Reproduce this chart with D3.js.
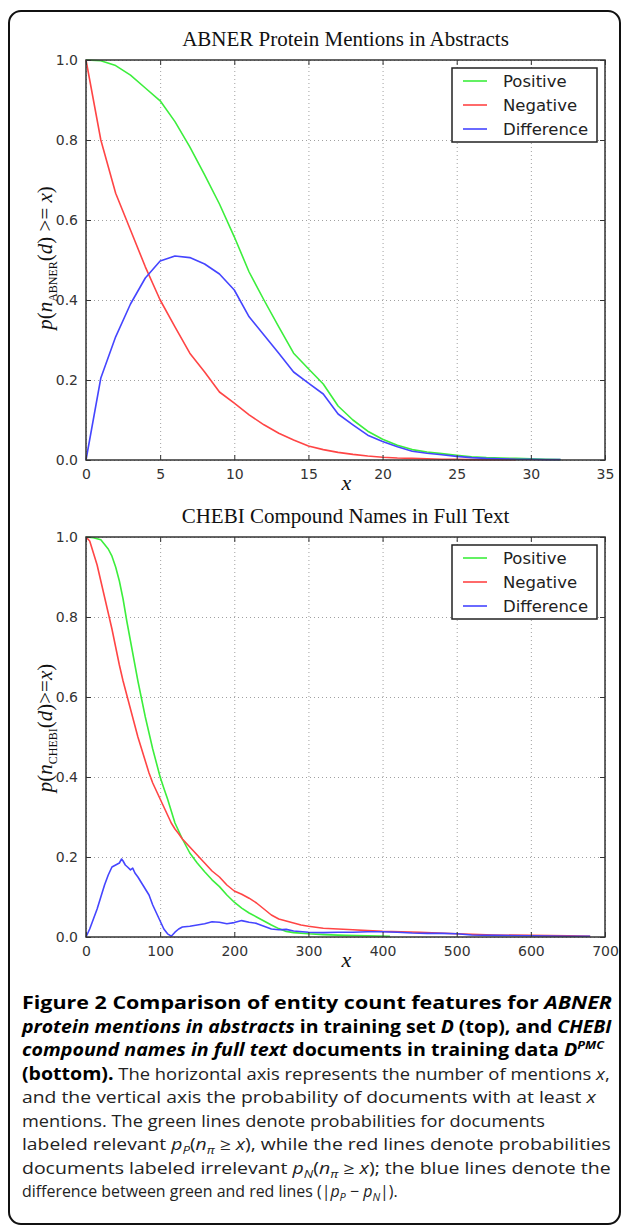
<!DOCTYPE html>
<html><head><meta charset="utf-8">
<script src="https://cdn.jsdelivr.net/npm/d3@7/dist/d3.min.js"></script>
<style>body{margin:0;background:#fff}svg{display:block}</style>
</head><body>
<svg id="c" width="629" height="1228"></svg>
<script>
// ---------- DATA ----------
const seriesNames = ["Positive", "Negative", "Difference"];

// Top chart: ABNER protein mentions in abstracts
const abnerTitle = "ABNER Protein Mentions in Abstracts";
const abnerXTicks = [0, 5, 10, 15, 20, 25, 30, 35];
const abnerX = [0,1,2,3,4,5,6,7,8,9,10,11,12,13,14,15,16,17,18,19,20,21,22,23,24,25,26,27,28,29,30,31,32];
const abnerPositive = [1.0,0.998,0.986,0.962,0.93,0.898,0.846,0.783,0.713,0.64,0.558,0.47,0.40,0.333,0.267,0.228,0.19,0.135,0.10,0.072,0.052,0.037,0.026,0.02,0.016,0.012,0.008,0.006,0.005,0.004,0.003,0.002,0.001];
const abnerNegative = [1.0,0.80,0.667,0.575,0.483,0.40,0.333,0.267,0.22,0.17,0.142,0.113,0.088,0.067,0.05,0.035,0.026,0.019,0.014,0.010,0.007,0.005,0.004,0.003,0.002,0.002,0.001,0.001,0.001,0.001];
const abnerDifference = [0,0.205,0.308,0.39,0.455,0.4975,0.51,0.506,0.49,0.465,0.425,0.358,0.3125,0.267,0.22,0.192,0.165,0.115,0.088,0.062,0.046,0.033,0.022,0.017,0.013,0.009,0.006,0.004,0.003,0.002,0.002,0.001,0.001];

// Bottom chart: CHEBI compound names in full text
const chebiTitle = "CHEBI Compound Names in Full Text";
const chebiXTicks = [0, 100, 200, 300, 400, 500, 600, 700];
const chebiPosX = [0,10,20,30,35,40,45,50,55,60,65,70,75,80,85,90,95,100,105,110,115,120,125,130,140,150,160,170,180,190,200,210,220,230,240,250,260,270,280,300,320,350,380,410];
const chebiPositive = [1.0,0.998,0.993,0.97,0.952,0.925,0.89,0.845,0.79,0.74,0.69,0.64,0.595,0.55,0.51,0.47,0.435,0.40,0.372,0.345,0.315,0.285,0.265,0.245,0.21,0.185,0.163,0.143,0.126,0.105,0.087,0.072,0.06,0.05,0.04,0.03,0.021,0.014,0.011,0.008,0.006,0.004,0.003,0.002];
const chebiNegX = [0,5,10,15,20,25,30,35,40,45,50,55,60,65,70,75,80,85,90,95,100,105,110,115,120,125,130,140,150,160,170,180,190,200,210,220,230,240,250,260,270,280,290,300,320,340,360,380,400,450,500,550,600,650,680];
const chebiNegative = [1.0,0.99,0.96,0.93,0.89,0.85,0.81,0.77,0.725,0.68,0.64,0.605,0.57,0.535,0.5,0.47,0.44,0.41,0.385,0.365,0.345,0.325,0.305,0.285,0.27,0.258,0.245,0.225,0.205,0.185,0.165,0.15,0.13,0.115,0.107,0.097,0.085,0.07,0.055,0.045,0.04,0.035,0.03,0.027,0.022,0.02,0.018,0.016,0.014,0.012,0.008,0.005,0.004,0.003,0.002];
const chebiDiffX = [0,5,10,15,20,25,30,35,40,45,48,50,53,56,60,63,66,70,75,80,85,90,95,100,105,110,115,120,125,130,140,150,160,170,180,190,200,210,220,230,240,250,260,270,280,300,320,340,360,380,400,420,440,460,480,500,520,550,600,650,680];
const chebiDifference = [0,0.02,0.045,0.07,0.1,0.13,0.155,0.175,0.18,0.185,0.195,0.19,0.18,0.175,0.168,0.172,0.16,0.15,0.135,0.12,0.105,0.08,0.06,0.04,0.02,0.008,0.002,0.012,0.02,0.025,0.027,0.03,0.033,0.038,0.037,0.033,0.036,0.041,0.037,0.034,0.027,0.02,0.018,0.019,0.015,0.012,0.011,0.012,0.012,0.013,0.013,0.012,0.01,0.009,0.009,0.008,0.005,0.004,0.003,0.002,0.002];

const yTicks = [0, 0.2, 0.4, 0.6, 0.8, 1.0];
const colors = {Positive: "#3cee3c", Negative: "#ff4545", Difference: "#4545ff"};

// Caption lines: [text, style] where style tokens: b (bold), i (italic), sub, sup
const captionLines = [
  [["Figure 2 Comparison of entity count features for ","b"],["ABNER","b i"]],
  [["protein mentions in abstracts","b i"],[" in training set ","b"],["D","b i"],[" (top), and ","b"],["CHEBI","b i"]],
  [["compound names in full text","b i"],[" documents in training data ","b"],["D","b i"],["PMC","b i sup"]],
  [["(bottom).","b"],[" The horizontal axis represents the number of mentions ",""],["x","i"],[",",""]],
  [["and the vertical axis the probability of documents with at least ",""],["x","i"]],
  [["mentions. The green lines denote probabilities for documents",""]],
  [["labeled relevant ",""],["p","i"],["P","i sub"],["(",""],["n","i"],["π","i sub"],[" ≥ ",""],["x","i"],["), while the red lines denote probabilities",""]],
  [["documents labeled irrelevant ",""],["p","i"],["N","i sub"],["(",""],["n","i"],["π","i sub"],[" ≥ ",""],["x","i"],["); the blue lines denote the",""]],
  [["difference between green and red lines (|",""],["p","i"],["P","i sub"],[" − ",""],["p","i"],["N","i sub"],["|).",""]]
];
const captionLineEnds = [612, 612, 604, 610, 596, 545, 611, 611, 398];

// ---------- DRAW ----------
const svg = d3.select("#c");
svg.append("rect").attr("x", 9).attr("y", 11).attr("width", 611).attr("height", 1213)
  .attr("rx", 12).attr("fill", "#fff").attr("stroke", "#111").attr("stroke-width", 2);

function drawChart(cfg) {
  const left = 86, right = 605, top = cfg.top, bottom = cfg.top + 400;
  const x = d3.scaleLinear().domain([0, cfg.xTicks[cfg.xTicks.length - 1]]).range([left, right]);
  const y = d3.scaleLinear().domain([0, 1]).range([bottom, top]);
  const g = svg.append("g");

  // grid
  const grid = g.append("g").attr("class", "grid");
  grid.append("g").attr("transform", `translate(0,${bottom})`)
    .call(d3.axisBottom(x).tickValues(cfg.xTicks).tickSize(-(bottom - top)).tickFormat(""));
  grid.append("g").attr("transform", `translate(${left},0)`)
    .call(d3.axisLeft(y).tickValues(yTicks).tickSize(-(right - left)).tickFormat(""));
  grid.selectAll(".domain").remove();
  grid.selectAll("line").attr("stroke", "#a0a0a0").attr("stroke-width", 1).attr("stroke-dasharray", "1,3");

  // title
  g.append("text").attr("x", (left + right) / 2).attr("y", top - 14)
    .attr("text-anchor", "middle").attr("font-family", "Liberation Serif, serif")
    .attr("font-size", 21).attr("fill", "#111").text(cfg.title);

  // lines
  const line = d3.line().x(d => x(d[0])).y(d => y(d[1]));
  cfg.series.forEach(s => {
    g.append("path").datum(s.xs.map((v, i) => [v, s.ys[i]]))
      .attr("d", line).attr("fill", "none").attr("stroke", colors[s.name])
      .attr("stroke-width", 1.6).attr("stroke-linejoin", "round");
  });

  // frame
  g.append("rect").attr("x", left).attr("y", top).attr("width", right - left).attr("height", bottom - top)
    .attr("fill", "none").attr("stroke", "#333").attr("stroke-width", 1.5);

  // ticks and labels
  const fmt = d3.format(".1f");
  const ax = g.append("g").attr("font-family", "DejaVu Sans, sans-serif");
  ax.append("g").attr("transform", `translate(0,${bottom})`)
    .call(d3.axisBottom(x).tickValues(cfg.xTicks).tickSize(-5).tickPadding(9));
  ax.append("g").attr("transform", `translate(0,${top})`)
    .call(d3.axisTop(x).tickValues(cfg.xTicks).tickSize(-5).tickFormat(""));
  ax.append("g").attr("transform", `translate(${left},0)`)
    .call(d3.axisLeft(y).tickValues(yTicks).tickSize(-5).tickPadding(8).tickFormat(fmt));
  ax.append("g").attr("transform", `translate(${right},0)`)
    .call(d3.axisRight(y).tickValues(yTicks).tickSize(-5).tickFormat(""));
  ax.selectAll(".domain").remove();
  ax.selectAll(".tick line").attr("stroke", "#333").attr("stroke-width", 1);
  ax.selectAll(".tick text").attr("font-size", 14).attr("fill", "#333").attr("font-family", "DejaVu Sans, sans-serif");

  // x label
  g.append("text").attr("x", (left + right) / 2 + 1).attr("y", bottom + 30)
    .attr("text-anchor", "middle").attr("font-family", "Liberation Serif, serif")
    .attr("font-style", "italic").attr("font-size", 22).attr("fill", "#111").text("x");

  // y label (rotated)
  const yl = g.append("text").attr("transform", `translate(52,${cfg.yLabelCenter}) rotate(-90)`)
    .attr("text-anchor", "middle").attr("font-family", "Liberation Serif, serif")
    .attr("font-size", 21).attr("fill", "#111");
  yl.append("tspan").attr("font-style", "italic").text("p");
  yl.append("tspan").text("(");
  yl.append("tspan").attr("font-style", "italic").text("n");
  yl.append("tspan").attr("font-size", 12).attr("dy", 5).text(cfg.sub);
  yl.append("tspan").attr("dy", -5).text("(");
  yl.append("tspan").attr("font-style", "italic").text("d");
  yl.append("tspan").text(cfg.ge);
  yl.append("tspan").attr("font-style", "italic").text("x");
  yl.append("tspan").text(")");

  // legend
  const lg = g.append("g");
  const lx0 = 452, lw = 145, ly0 = top + 8, lh = 74;
  lg.append("rect").attr("x", lx0).attr("y", ly0).attr("width", lw).attr("height", lh)
    .attr("fill", "#fff").attr("stroke", "#222").attr("stroke-width", 1.5);
  seriesNames.forEach((n, i) => {
    const yy = ly0 + 13 + i * 24;
    lg.append("line").attr("x1", lx0 + 11).attr("x2", lx0 + 35).attr("y1", yy).attr("y2", yy)
      .attr("stroke", colors[n]).attr("stroke-width", 1.6);
    lg.append("text").attr("x", lx0 + 51).attr("y", yy + 6)
      .attr("font-family", "DejaVu Sans, sans-serif").attr("font-size", 16.5).attr("fill", "#222").text(n);
  });
}

drawChart({
  top: 60, title: abnerTitle, xTicks: abnerXTicks, sub: "ABNER", ge: ") >= ", yLabelCenter: 258,
  series: [
    {name: "Positive", xs: abnerX, ys: abnerPositive},
    {name: "Negative", xs: abnerX, ys: abnerNegative},
    {name: "Difference", xs: abnerX, ys: abnerDifference}
  ]
});
drawChart({
  top: 537, title: chebiTitle, xTicks: chebiXTicks, sub: "CHEBI", ge: ")>=", yLabelCenter: 728,
  series: [
    {name: "Positive", xs: chebiPosX, ys: chebiPositive},
    {name: "Negative", xs: chebiNegX, ys: chebiNegative},
    {name: "Difference", xs: chebiDiffX, ys: chebiDifference}
  ]
});

// caption: each line is scaled horizontally to the width it has in the reference
const capX = 22, capY0 = 1009, capStep = 23.5;
captionLines.forEach((segs, li) => {
  const t = svg.append("text").attr("x", 0).attr("y", 0)
    .attr("font-family", "Open Sans, sans-serif").attr("fill", "#222");
  let shift = 0;
  segs.forEach(([txt, st]) => {
    const tok = st.split(" ").filter(Boolean);
    const ts = t.append("tspan").text(txt);
    const bold = tok.includes("b");
    ts.attr("font-size", bold ? 17 : 16);
    if (bold) ts.attr("font-weight", "bold").attr("fill", "#000");
    if (tok.includes("i")) ts.attr("font-style", "italic");
    let target = 0;
    if (tok.includes("sub")) target = 4;
    if (tok.includes("sup")) target = -7;
    if (tok.includes("sub") || tok.includes("sup")) ts.attr("font-size", 11);
    if (target !== shift) { ts.attr("dy", target - shift); shift = target; }
  });
  const natural = t.node().getComputedTextLength();
  const sx = (captionLineEnds[li] - capX) / natural;
  t.attr("transform", `translate(${capX},${capY0 + li * capStep}) scale(${sx},1)`);
});
</script>
</body></html>
